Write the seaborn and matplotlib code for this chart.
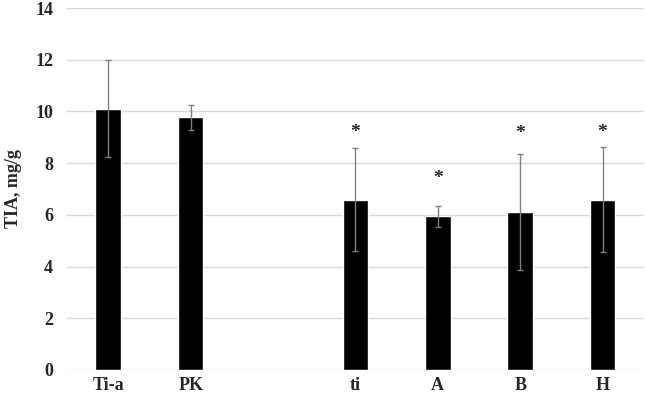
import matplotlib
matplotlib.use("Agg")
import matplotlib.pyplot as plt
import seaborn as sns
import pandas as pd

# data
groups = ["Ti-a", "PK", "ti", "A", "B", "H"]
tia = [10.1, 9.78, 6.59, 5.95, 6.1, 6.59]
err = [1.87, 0.48, 2.0, 0.41, 2.24, 2.03]
stars = ["", "", "*", "*", "*", "*"]
star_y = [0, 0, 9.2, 7.41, 9.14, 9.2]
order = ["Ti-a", "PK", " ", "ti", "A", "B", "H"]   # blank slot between the two sets

df = pd.DataFrame({"group": groups, "tia": tia})

sns.set_style("white")
plt.rcParams["font.family"] = ["Liberation Serif", "DejaVu Serif"]
plt.rcParams["font.weight"] = "bold"

fig = plt.figure(figsize=(6.45, 4.0), dpi=100)
ax = fig.add_axes([0.104, 0.075, 0.894, 0.905])

sns.barplot(data=df, x="group", y="tia", order=order, color="black",
            width=0.31, errorbar=None, saturation=1, ax=ax, zorder=3)

pos = [order.index(g) for g in groups]
ax.errorbar(pos, tia, yerr=err, fmt="none", ecolor="#808080",
            elinewidth=1, capsize=2, capthick=1, zorder=4)
for x, s, y in zip(pos, stars, star_y):
    if s:
        ax.text(x, y, s, ha="center", va="center", fontsize=14,
                fontweight="bold", color="#222222")

ax.set_xlim(-0.5, 6.5)
ax.set_ylim(0, 14)
ax.set_yticks(range(0, 15, 2))
ax.yaxis.grid(True, color="#d9d9d9", linewidth=1)
ax.set_axisbelow(True)
for s in ax.spines.values():
    s.set_visible(False)
ax.tick_params(length=0, labelsize=13)
ax.tick_params(axis="x", pad=5)
ax.tick_params(axis="y", pad=10)
for lab in ax.get_xticklabels() + ax.get_yticklabels():
    lab.set_fontweight("bold")
ax.set_xlabel("")
ax.set_ylabel("TIA, mg/g", fontsize=13, fontweight="bold")
ax.yaxis.set_label_coords(-0.078, 0.5)

fig.savefig("out.png", dpi=100)
